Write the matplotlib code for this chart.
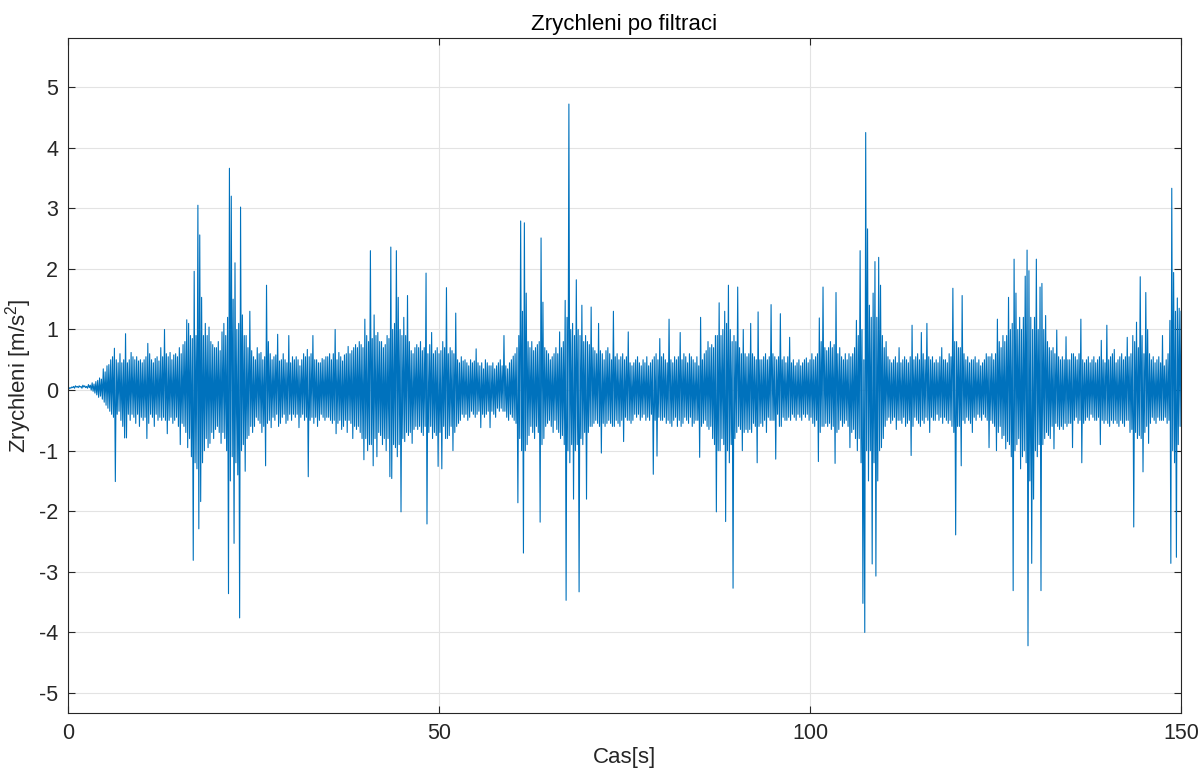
import numpy as np
import matplotlib
matplotlib.use('Agg')
import matplotlib.pyplot as plt

plt.rcParams['font.family'] = ['Liberation Sans', 'DejaVu Sans']
plt.rcParams['mathtext.default'] = 'regular'
plt.rcParams['axes.unicode_minus'] = False

# filtered acceleration, one sample every 0.125 s (one row = 5 s)
dt = 0.125
accel = [
    0.0, 0.02, 0.04, 0.03, 0.05, 0.04, 0.06, 0.03, 0.07, 0.05, 0.06, 0.04, 0.07, 0.05, 0.06, 0.03, 0.08, 0.05, 0.07, 0.04,
    0.06, 0.03, 0.09, 0.04, 0.08, 0.0, 0.12, -0.02, 0.1, -0.05, 0.14, -0.08, 0.16, -0.12, 0.2, -0.1, 0.18, -0.15, 0.35, -0.2,
    0.3, -0.25, 0.4, -0.3, 0.42, -0.35, 0.5, -0.4, 0.55, -0.45, 0.69, -1.51, 0.5, -0.4, 0.45, -0.35, 0.6, -0.5, 0.45, -0.6,
    0.5, -0.79, 0.93, -0.79, 0.45, -0.4, 0.5, -0.5, 0.62, -0.4, 0.55, -0.45, 0.5, -0.55, 0.55, -0.4, 0.48, -0.6, 0.5, -0.45,
    0.45, -0.5, 0.5, -0.45, 0.55, -0.8, 0.77, -0.55, 0.6, -0.4, 0.5, -0.45, 0.45, -0.6, 0.52, -0.4, 0.55, -0.5, 0.48, -0.45,
    0.7, -0.5, 0.55, -0.45, 1.0, -0.5, 0.6, -0.72, 0.55, -0.5, 0.62, -0.45, 0.5, -0.55, 0.58, -0.5, 0.6, -0.45, 0.55, -0.6,
    0.7, -0.9, 0.6, -0.55, 0.75, -0.6, 0.8, -0.7, 1.16, -0.95, 1.1, -0.8, 0.9, -1.1, 0.85, -2.81, 1.96, -1.2, 0.9, -1.3,
    3.05, -2.29, 2.56, -1.84, 1.53, -1.2, 0.9, -1.0, 1.1, -0.8, 0.9, -0.95, 1.04, -0.88, 0.8, -0.7, 0.75, -0.8, 0.7, -0.65,
    0.7, -0.6, 0.8, -0.7, 0.65, -0.88, 0.96, -0.7, 1.1, -0.8, 0.9, -1.0, 1.2, -3.36, 3.66, -1.5, 3.2, -1.1, 1.5, -2.53,
    2.1, -1.2, 1.0, -1.4, 1.1, -3.76, 3.02, -1.0, 1.24, -0.9, 0.9, -1.34, 0.9, -0.8, 0.7, -0.75, 1.3, -0.6, 0.65, -0.7,
    0.55, -0.6, 0.5, -0.45, 0.7, -0.5, 0.6, -0.55, 0.62, -0.7, 0.5, -0.6, 0.55, -1.25, 1.73, -0.55, 0.8, -0.5, 0.6, -0.62,
    0.5, -0.45, 0.55, -0.5, 0.58, -0.4, 0.92, -0.6, 0.48, -0.55, 0.5, -0.45, 0.6, -0.4, 0.5, -0.55, 0.45, -0.5, 0.9, -0.4,
    0.45, -0.5, 0.55, -0.4, 0.5, -0.45, 0.55, -0.4, 0.5, -0.62, 0.4, -0.45, 0.5, -0.4, 0.6, -0.5, 0.55, -0.45, 0.67, -1.43,
    0.55, -0.5, 0.6, -0.45, 0.9, -0.55, 0.5, -0.45, 0.5, -0.6, 0.45, -0.5, 0.45, -0.4, 0.52, -0.45, 0.5, -0.5, 0.55, -0.45,
    0.55, -0.45, 0.6, -0.5, 0.5, -0.55, 0.6, -0.5, 1.0, -0.72, 0.5, -0.55, 0.62, -0.5, 0.55, -0.65, 0.48, -0.6, 0.58, -0.5,
    0.6, -0.7, 0.72, -0.5, 0.6, -0.55, 0.65, -0.8, 0.7, -0.6, 0.75, -0.65, 0.7, -0.6, 0.8, -0.7, 0.75, -0.8, 0.7, -1.15,
    1.17, -0.8, 0.9, -1.0, 0.8, -0.9, 2.3, -0.9, 0.85, -1.25, 1.24, -0.8, 0.9, -1.1, 0.95, -0.7, 0.8, -0.75, 0.8, -0.9,
    0.7, -0.8, 0.75, -1.0, 0.9, -0.8, 0.85, -1.43, 2.36, -1.46, 1.0, -0.9, 1.1, -0.95, 2.3, -1.1, 1.53, -0.9, 1.0, -2.01,
    0.9, -0.8, 1.2, -0.85, 0.9, -0.7, 1.56, -0.75, 0.8, -0.7, 0.65, -0.88, 0.6, -0.65, 0.7, -0.6, 0.75, -0.65, 0.7, -0.6,
    0.8, -0.7, 0.65, -0.75, 0.7, -0.6, 1.93, -2.21, 0.6, -0.7, 0.75, -0.6, 0.95, -0.8, 0.6, -0.7, 0.65, -0.75, 0.7, -1.26,
    0.6, -0.7, 0.65, -1.3, 0.8, -0.6, 0.7, -0.8, 1.69, -0.8, 0.6, -0.75, 0.7, -0.6, 0.65, -1.0, 0.6, -0.7, 1.27, -0.6,
    0.5, -0.55, 0.45, -0.5, 0.55, -0.4, 0.48, -0.45, 0.5, -0.4, 0.45, -0.5, 0.4, -0.45, 0.5, -0.35, 0.45, -0.4, 0.48, -0.45,
    0.68, -0.4, 0.45, -0.35, 0.4, -0.62, 0.45, -0.4, 0.35, -0.45, 0.5, -0.4, 0.45, -0.35, 0.4, -0.62, 0.4, -0.35, 0.45, -0.4,
    0.35, -0.45, 0.4, -0.3, 0.45, -0.35, 0.5, -0.3, 0.4, -0.35, 0.9, -0.35, 0.4, -0.45, 0.35, -0.5, 0.45, -0.4, 0.5, -0.45,
    0.56, -0.5, 0.6, -0.55, 0.7, -1.86, 0.9, -0.8, 2.79, -1.0, 1.3, -2.69, 2.76, -1.0, 1.6, -0.9, 0.8, -0.75, 0.7, -0.6,
    0.8, -0.7, 0.65, -0.8, 0.7, -0.6, 0.75, -0.7, 0.8, -2.18, 2.51, -0.9, 1.45, -0.8, 0.7, -0.6, 0.65, -0.55, 0.6, -0.5,
    0.5, -0.6, 0.55, -0.7, 0.6, -0.5, 0.7, -0.65, 0.6, -0.7, 0.96, -0.8, 0.7, -0.75, 0.8, -0.9, 1.48, -3.47, 1.2, -1.0,
    4.72, -1.2, 1.0, -0.9, 1.1, -1.8, 0.9, -1.0, 1.82, -0.9, 1.0, -3.33, 0.9, -0.8, 1.4, -0.9, 0.8, -0.7, 0.9, -1.8,
    0.8, -0.7, 0.75, -0.6, 1.37, -0.6, 0.7, -0.55, 0.65, -0.5, 0.6, -0.55, 1.1, -0.6, 0.65, -1.04, 0.6, -0.55, 0.5, -0.6,
    0.65, -0.55, 0.7, -0.5, 0.6, -0.55, 0.5, -0.6, 1.3, -0.6, 0.55, -0.5, 0.6, -0.55, 0.5, -0.6, 0.55, -0.5, 0.6, -0.85,
    0.5, -0.45, 0.55, -0.5, 0.96, -0.5, 0.45, -0.55, 0.4, -0.5, 0.45, -0.4, 0.5, -0.45, 0.55, -0.4, 0.45, -0.5, 0.4, -0.45,
    0.5, -0.4, 0.45, -0.5, 0.55, -0.45, 0.4, -0.5, 0.45, -0.4, 0.5, -1.39, 0.55, -0.5, 0.6, -1.09, 0.5, -0.45, 0.85, -0.5,
    0.55, -0.5, 0.6, -0.45, 0.5, -0.55, 0.45, -0.5, 1.17, -0.55, 0.5, -0.6, 0.45, -0.5, 0.55, -0.45, 0.5, -0.6, 0.55, -0.5,
    0.95, -0.6, 0.5, -0.55, 0.6, -0.45, 0.55, -0.5, 0.45, -0.55, 0.6, -0.45, 0.55, -0.6, 0.5, -0.55, 0.45, -0.5, 0.55, -0.5,
    0.4, -1.11, 1.2, -0.6, 0.5, -0.55, 0.6, -0.5, 0.65, -0.6, 0.8, -0.65, 0.7, -0.6, 0.75, -0.8, 0.7, -0.9, 0.9, -2.01,
    0.9, -1.0, 1.44, -1.0, 0.9, -0.8, 1.0, -0.9, 1.3, -2.17, 1.1, -1.0, 1.73, -1.2, 1.0, -0.9, 0.8, -3.27, 0.9, -0.8,
    0.8, -0.7, 1.7, -0.6, 0.7, -0.65, 0.6, -1.0, 1.0, -0.7, 0.6, -0.65, 0.55, -0.7, 0.6, -0.65, 1.1, -0.7, 0.6, -0.55,
    0.55, -0.6, 0.5, -1.2, 1.29, -0.6, 0.5, -0.55, 0.5, -0.6, 0.55, -0.5, 0.6, -0.7, 0.5, -0.45, 0.55, -0.5, 1.41, -0.5,
    0.6, -0.5, 0.55, -1.14, 0.5, -0.4, 0.55, -0.6, 1.26, -0.6, 0.5, -0.45, 0.55, -0.5, 0.45, -0.5, 0.55, -0.45, 0.87, -0.5,
    0.45, -0.4, 0.5, -0.45, 0.4, -0.5, 0.45, -0.4, 0.5, -0.45, 0.4, -0.5, 0.45, -0.4, 0.5, -0.45, 0.53, -0.4, 0.45, -0.5,
    0.5, -0.45, 0.6, -0.55, 0.5, -0.6, 0.55, -0.5, 0.6, -1.18, 1.19, -0.7, 0.8, -0.6, 1.7, -0.6, 0.7, -0.55, 0.65, -0.6,
    0.7, -0.55, 0.8, -0.65, 0.7, -0.6, 0.75, -1.21, 1.61, -0.7, 0.6, -0.65, 0.7, -0.5, 0.55, -0.6, 0.5, -0.55, 0.6, -0.5,
    0.5, -0.6, 0.6, -0.95, 0.55, -0.7, 0.6, -0.65, 0.7, -0.8, 1.15, -1.0, 0.9, -0.8, 2.3, -1.2, 1.0, -3.52, 0.5, -4.0,
    4.25, -1.0, 2.66, -1.5, 1.4, -1.0, 1.2, -2.87, 1.6, -1.2, 2.12, -3.07, 1.2, -1.5, 2.19, -1.0, 1.73, -0.95, 0.9, -0.8,
    0.7, -0.6, 0.8, -0.5, 0.55, -0.45, 0.5, -0.55, 0.45, -0.5, 0.5, -0.45, 0.55, -0.65, 0.45, -0.5, 0.7, -0.5, 0.45, -0.55,
    0.5, -0.45, 0.55, -0.6, 0.5, -0.55, 0.45, -0.5, 0.55, -1.08, 1.07, -0.6, 0.5, -0.45, 0.55, -0.5, 0.6, -0.55, 0.5, -0.6,
    0.95, -0.5, 0.6, -0.55, 0.5, -0.45, 1.1, -0.5, 0.55, -0.7, 0.5, -0.45, 0.55, -0.5, 0.45, -0.5, 0.5, -0.4, 0.45, -0.5,
    0.55, -0.45, 0.7, -0.55, 0.5, -0.45, 0.5, -0.5, 0.45, -0.55, 0.6, -0.5, 0.55, -0.6, 1.68, -0.7, 0.8, -2.39, 0.8, -0.6,
    0.7, -0.6, 0.7, -1.25, 1.56, -0.5, 0.6, -0.55, 0.5, -0.45, 0.55, -0.5, 0.45, -0.55, 0.5, -0.7, 0.5, -0.45, 0.55, -0.5,
    0.45, -0.4, 0.5, -0.45, 0.4, -0.5, 0.45, -0.4, 0.5, -0.45, 0.6, -0.5, 0.55, -0.95, 0.55, -0.5, 0.6, -0.55, 0.5, -0.6,
    0.6, -1.0, 1.17, -0.7, 0.8, -0.6, 0.7, -0.8, 0.9, -0.75, 0.8, -0.97, 0.9, -0.85, 1.53, -0.9, 1.0, -1.1, 1.1, -3.31,
    2.16, -1.0, 1.6, -0.9, 1.0, -0.8, 1.2, -1.3, 1.0, -1.1, 1.2, -1.0, 1.88, -1.2, 2.31, -4.22, 1.97, -1.5, 1.2, -2.86,
    1.0, -1.8, 1.2, -1.0, 2.16, -1.1, 1.0, -0.9, 1.7, -3.31, 1.76, -0.9, 1.0, -0.8, 1.23, -0.7, 0.8, -0.75, 0.7, -0.8,
    0.65, -0.6, 0.7, -0.97, 0.6, -0.55, 0.99, -0.6, 0.55, -0.65, 0.5, -0.6, 0.55, -0.65, 0.5, -0.55, 0.88, -0.6, 0.5, -0.55,
    0.5, -0.55, 0.6, -0.95, 0.6, -0.5, 0.55, -0.45, 0.5, -0.55, 0.6, -0.5, 1.17, -1.2, 0.5, -0.55, 0.45, -0.5, 0.5, -0.45,
    0.55, -0.5, 0.45, -0.4, 0.5, -0.45, 0.55, -0.5, 0.45, -0.5, 0.5, -0.45, 0.55, -0.9, 0.82, -0.5, 0.5, -0.55, 0.45, -0.5,
    1.07, -0.55, 0.5, -0.6, 0.55, -0.5, 0.6, -0.55, 0.67, -0.5, 0.45, -0.55, 0.5, -0.6, 0.55, -0.5, 0.6, -0.55, 0.5, -0.6,
    0.55, -0.5, 0.87, -0.5, 0.55, -0.7, 0.6, -0.65, 0.9, -2.26, 0.8, -0.7, 1.12, -0.8, 0.7, -0.75, 1.87, -0.8, 0.9, -1.35,
    0.6, -0.7, 1.61, -0.6, 1.0, -0.88, 0.6, -0.55, 0.5, -0.45, 0.55, -0.5, 0.45, -0.55, 0.5, -0.45, 0.55, -0.5, 0.45, -0.5,
    0.9, -0.5, 0.4, -0.45, 0.5, -0.55, 0.6, -0.5, 1.15, -2.86, 3.33, -1.0, 1.94, -1.2, 1.3, -2.76, 1.52, -0.9, 1.35, -0.6,
    1.3,
]
x_ticks = [0, 50, 100, 150]
y_ticks = [-5, -4, -3, -2, -1, 0, 1, 2, 3, 4, 5]

cas = np.arange(len(accel)) * dt

fig = plt.figure(figsize=(12, 7.71), dpi=100)
ax = fig.add_axes([0.0567, 0.0752, 0.9275, 0.8755])

ax.plot(cas, accel, color='#0072BD', linewidth=0.8)

ax.set_xlim(0, 150)
ax.set_ylim(-5.33, 5.81)
ax.set_xticks(x_ticks)
ax.set_yticks(y_ticks)

dark = '#262626'
ax.grid(True, color='#e3e3e3', linewidth=0.8)
ax.set_axisbelow(True)
for s in ax.spines.values():
    s.set_color(dark)
    s.set_linewidth(0.8)
ax.tick_params(direction='in', top=True, right=True, length=5, width=0.8,
               colors=dark, labelsize=15.5, pad=7)

ax.set_title('Zrychleni po filtraci', fontsize=16, color='black', pad=6)
ax.set_xlabel('Cas[s]', fontsize=16, color=dark, labelpad=2)
ax.set_ylabel('Zrychleni [m/s$^2$]', fontsize=16, color=dark, labelpad=4)

plt.savefig('out.png', dpi=100)
